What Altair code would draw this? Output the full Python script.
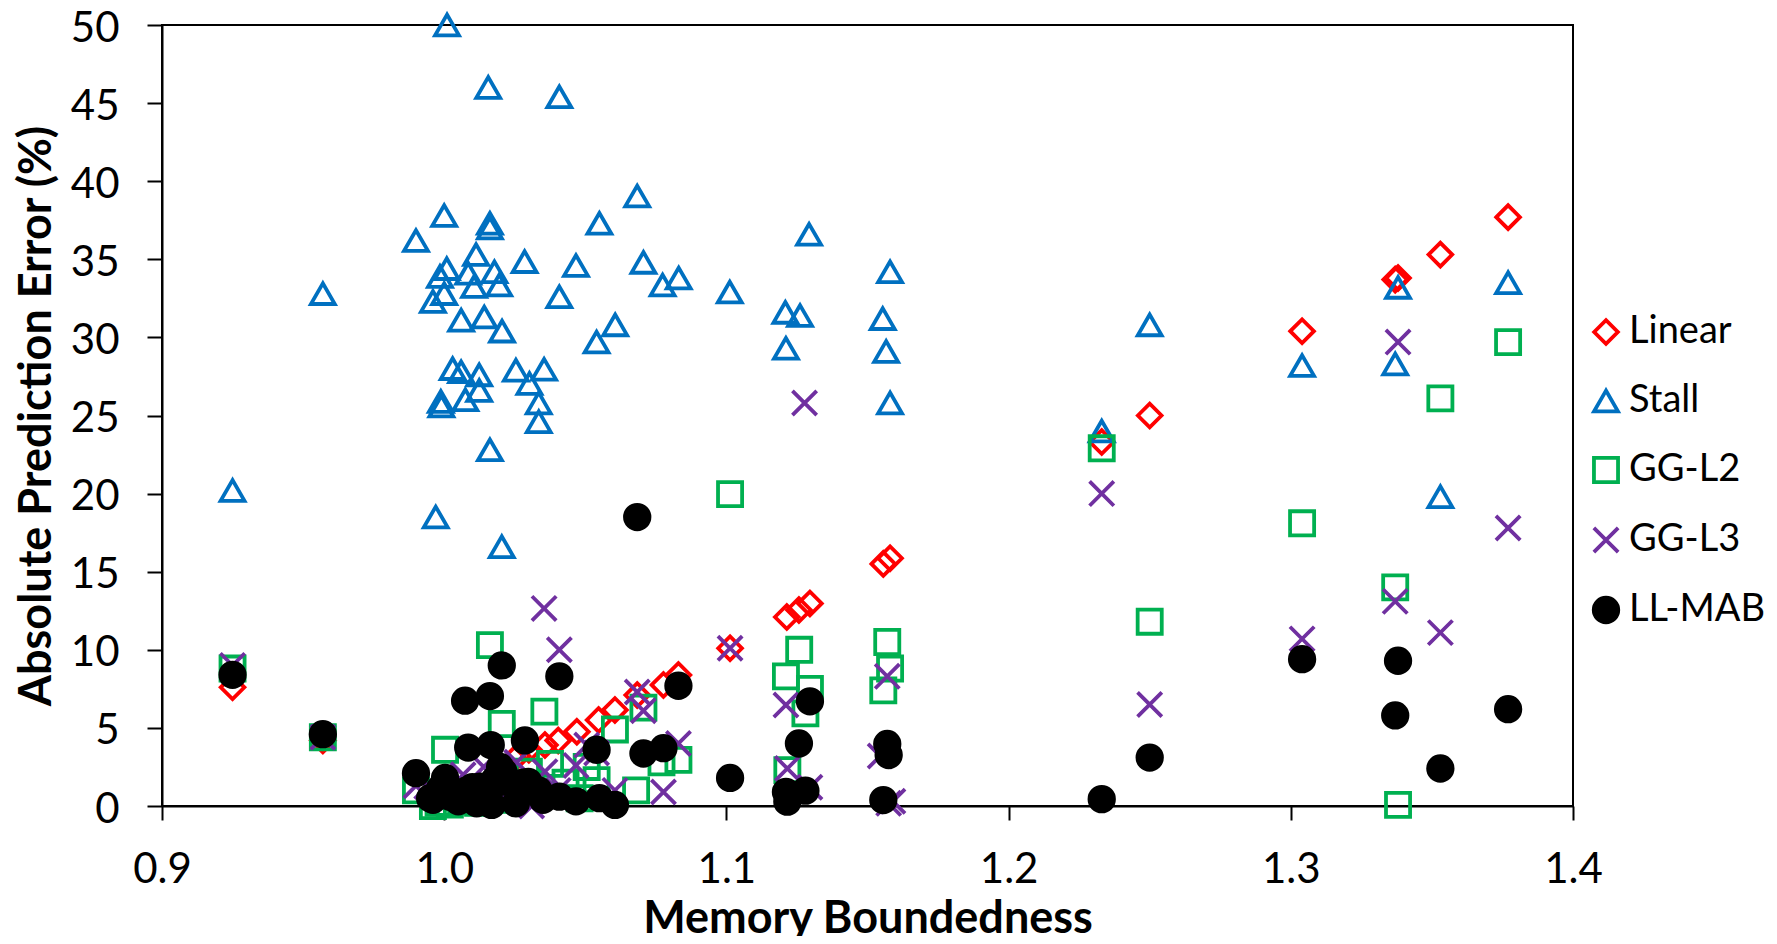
import altair as alt
import pandas as pd

series_names = ["Linear", "Stall", "GG-L2", "GG-L3", "LL-MAB"]

linear_x = [0.925, 0.957, 1.026, 1.030, 1.0357, 1.0404, 1.047, 1.0547, 1.0605, 1.0684,
            1.0777, 1.083, 1.1013, 1.1214, 1.1257, 1.1296, 1.1556, 1.158, 1.233, 1.250,
            1.304, 1.337, 1.338, 1.353, 1.377]
linear_y = [7.6, 4.2, 3.2, 3.6, 3.9, 4.2, 4.76, 5.5, 6.15, 7.1,
            7.75, 8.39, 10.1, 12.1, 12.55, 12.97, 15.5, 15.86, 23.3, 25.0,
            30.4, 33.7, 33.8, 35.3, 37.7]

stall_x = [0.925, 0.957, 0.990, 0.996, 0.997, 0.9985, 0.9988, 0.999, 1.000, 1.0009,
           1.001, 1.000, 1.003, 1.006, 1.006, 1.0075, 1.0085, 1.0106, 1.0113, 1.0124,
           1.0124, 1.0142, 1.0156, 1.0162, 1.0162, 1.0162, 1.0178, 1.0195, 1.0204, 1.0205,
           1.0254, 1.0285, 1.0302, 1.0335, 1.0335, 1.0354, 1.0408, 1.0408, 1.0467, 1.054,
           1.055, 1.0606, 1.0684, 1.0706, 1.0774, 1.0831, 1.1012, 1.1209, 1.1211, 1.1261,
           1.1293, 1.1554, 1.1566, 1.158, 1.158, 1.233, 1.250, 1.304, 1.337, 1.338,
           1.353, 1.377]
stall_y = [20.2, 32.8, 36.2, 32.3, 18.5, 33.9, 25.9, 25.6, 37.8, 34.4,
           50.0, 32.8, 28.0, 27.8, 31.1, 26.0, 34.1, 33.25, 35.3, 27.6,
           26.6, 31.3, 46.0, 37.3, 37.0, 22.8, 34.2, 33.35, 16.6, 30.4,
           27.9, 34.85, 27.05, 25.8, 24.6, 27.96, 45.4, 32.6, 34.6, 29.7,
           37.3, 30.8, 39.05, 34.8, 33.35, 33.8, 32.9, 31.6, 29.3, 31.4,
           36.6, 31.2, 29.1, 25.8, 34.2, 24.0, 30.8, 28.2, 28.3, 33.2,
           19.8, 33.5]

ggl2_x = [0.925, 0.957, 0.990, 0.996, 0.998, 1.002, 1.0003, 1.006, 1.012, 1.0162,
          1.018, 1.0204, 1.022, 1.030, 1.0355, 1.0375, 1.043, 1.048, 1.0505, 1.054,
          1.0605, 1.068, 1.0706, 1.077, 1.083, 1.1013, 1.1211, 1.1216, 1.1258, 1.128,
          1.1296, 1.1556, 1.157, 1.158, 1.233, 1.250, 1.304, 1.337, 1.338, 1.353,
          1.377]
ggl2_y = [8.8, 4.4, 1.0, 0.0, 0.2, 0.1, 3.6, 0.3, 0.2, 10.3,
          0.4, 5.25, 0.9, 2.2, 6.04, 2.7, 1.5, 0.5, 2.5, 1.66,
          4.9, 1.0, 6.3, 2.8, 2.95, 19.97, 8.3, 2.3, 10.0, 5.93,
          7.5, 7.4, 10.5, 8.8, 22.9, 11.8, 18.1, 14.0, 0.07, 26.1,
          29.7]

ggl3_x = [0.925, 0.957, 0.990, 0.9938, 0.996, 1.0067, 1.014, 1.020, 1.0257, 1.031,
          1.0354, 1.0357, 1.0404, 1.0408, 1.0467, 1.0505, 1.054, 1.0605, 1.0684, 1.0706,
          1.0777, 1.083, 1.1013, 1.1211, 1.1216, 1.1277, 1.1296, 1.1545, 1.157, 1.1575,
          1.159, 1.233, 1.250, 1.304, 1.337, 1.338, 1.353, 1.377]
ggl3_y = [9.0, 4.4, 1.3, 1.24, 1.0, 2.0, 2.5, 0.8, 2.8, 0.0,
          12.65, 2.2, 1.0, 10.0, 2.6, 3.9, 3.4, 1.0, 7.3, 6.1,
          0.9, 4.0, 10.1, 6.47, 2.4, 25.8, 1.2, 3.2, 8.3, 0.17,
          0.3, 20.0, 6.5, 10.7, 13.1, 29.7, 11.1, 17.8]

llmab_x = [0.925, 0.957, 0.990, 0.995, 0.996, 0.9985, 1.000, 1.0003, 1.002, 1.005,
           1.0056, 1.0074, 1.007, 1.008, 1.0085, 1.010, 1.0115, 1.0127, 1.013, 1.015,
           1.0162, 1.0165, 1.0168, 1.018, 1.0198, 1.0204, 1.0204, 1.021, 1.0254, 1.028,
           1.0286, 1.0298, 1.031, 1.0334, 1.035, 1.0408, 1.0408, 1.0467, 1.054, 1.055,
           1.0605, 1.0684, 1.0706, 1.0777, 1.083, 1.1013, 1.1211, 1.1216, 1.1257, 1.128,
           1.1296, 1.1556, 1.157, 1.1575, 1.233, 1.250, 1.304, 1.337, 1.338, 1.353,
           1.377]
llmab_y = [8.4, 4.6, 2.1, 0.5, 0.4, 1.1, 1.5, 1.8, 0.6, 0.3,
           0.4, 6.74, 0.8, 1.0, 3.74, 1.2, 0.17, 1.24, 0.4, 0.9,
           7.04, 3.9, 0.07, 1.7, 2.5, 9.0, 1.55, 2.2, 0.17, 1.5,
           4.2, 1.55, 1.0, 1.0, 0.4, 8.3, 0.6, 0.3, 3.6, 0.5,
           0.07, 18.5, 3.36, 3.7, 7.7, 1.8, 0.9, 0.28, 4.0, 0.98,
           6.7, 0.38, 3.97, 3.26, 0.44, 3.1, 9.4, 5.8, 9.3, 2.4,
           6.2]

x_ticks = [0.9, 1.0, 1.1, 1.2, 1.3, 1.4]
y_ticks = [0, 5, 10, 15, 20, 25, 30, 35, 40, 45, 50]

all_series = [
    ("Linear", linear_x, linear_y),
    ("Stall", stall_x, stall_y),
    ("GG-L2", ggl2_x, ggl2_y),
    ("GG-L3", ggl3_x, ggl3_y),
    ("LL-MAB", llmab_x, llmab_y),
]
rows = []
for name, xs, ys in all_series:
    assert len(xs) == len(ys), name
    for xv, yv in zip(xs, ys):
        rows.append({"series": name, "mb": xv, "err": yv})
df = pd.DataFrame(rows)

x_path = "M-1,-1L1,1M-1,1L1,-1"
shape_range = ["diamond", "triangle-up", "square", x_path, "circle"]
stroke_range = ["#FF0000", "#0070C0", "#00B050", "#7030A0", "#000000"]
fill_range = ["transparent", "transparent", "transparent", "transparent", "#000000"]
size_range = [560, 600, 600, 480, 400]

leg = alt.Legend(title=None, orient="none", legendX=1425, legendY=288,
                 labelFontSize=38, labelFont="Lato", labelColor="black",
                 rowPadding=30, labelOffset=4, symbolStrokeWidth=3.8,
                 symbolOpacity=1, padding=0)

chart = alt.Chart(df).mark_point(opacity=1, strokeWidth=3.8, clip=False).encode(
    x=alt.X("mb:Q", scale=alt.Scale(domain=[0.9, 1.4], nice=False, zero=False),
            axis=alt.Axis(values=x_ticks, format=".1f", title="Memory Boundedness",
                          tickSize=14, labelPadding=29, labelFlush=False, titleY=126,
                          titleBaseline="alphabetic")),
    y=alt.Y("err:Q", scale=alt.Scale(domain=[0, 50], nice=False),
            axis=alt.Axis(values=y_ticks, title="Absolute Prediction Error (%)",
                          tickSize=15, labelPadding=28, labelOffset=3, labelFlush=False,
                          titleX=-112, titleBaseline="alphabetic")),
    shape=alt.Shape("series:N", scale=alt.Scale(domain=series_names, range=shape_range), legend=leg),
    stroke=alt.Stroke("series:N", scale=alt.Scale(domain=series_names, range=stroke_range), legend=leg),
    fill=alt.Fill("series:N", scale=alt.Scale(domain=series_names, range=fill_range), legend=leg),
    size=alt.Size("series:N", scale=alt.Scale(domain=series_names, range=size_range), legend=leg),
).properties(
    width=1411, height=781,
    autosize=alt.AutoSizeParams(type="none"),
    padding={"left": 154, "top": 17, "right": 196, "bottom": 130},
).configure(
    font="Lato",
).configure_view(
    stroke="black", strokeWidth=2,
).configure_axis(
    grid=False, domainColor="black", domainWidth=2, tickColor="black", tickWidth=2,
    labelFont="Lato", labelFontSize=42, labelColor="black",
    titleFont="Lato", titleFontSize=45, titleFontWeight="bold", titleColor="black",
)

chart.save("out.html", embed_options={"renderer": "svg", "actions": False})
